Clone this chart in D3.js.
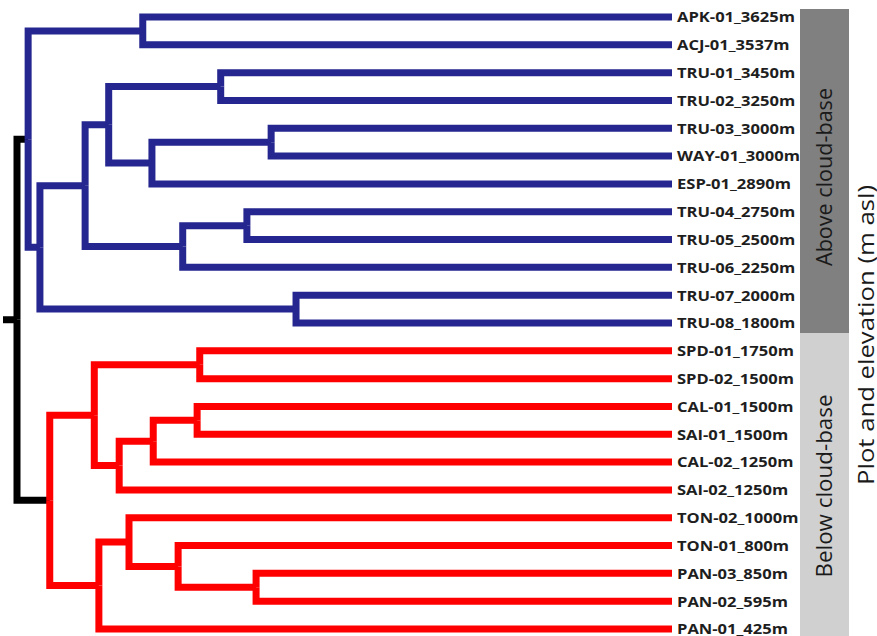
<!DOCTYPE html>
<html>
<head>
<meta charset="utf-8">
<script src="https://cdn.jsdelivr.net/npm/d3@7"></script>
<style>
  body { margin: 0; background: #fff; }
  svg { display: block; }
</style>
</head>
<body>
<svg id="chart" width="877" height="636"></svg>
<script>
// leaf order, top to bottom
const leaves = [
  'APK-01_3625m', 'ACJ-01_3537m', 'TRU-01_3450m', 'TRU-02_3250m',
  'TRU-03_3000m', 'WAY-01_3000m', 'ESP-01_2890m', 'TRU-04_2750m',
  'TRU-05_2500m', 'TRU-06_2250m', 'TRU-07_2000m', 'TRU-08_1800m',
  'SPD-01_1750m', 'SPD-02_1500m', 'CAL-01_1500m', 'SAI-01_1500m',
  'CAL-02_1250m', 'SAI-02_1250m', 'TON-02_1000m', 'TON-01_800m',
  'PAN-03_850m', 'PAN-02_595m', 'PAN-01_425m'
];

// linkage: [left, right, distance] ; cN = result of row N
const merges = [
  ['APK-01_3625m', 'ACJ-01_3537m', 0.808], // c0
  ['TRU-01_3450m', 'TRU-02_3250m', 0.689], // c1
  ['TRU-03_3000m', 'WAY-01_3000m', 0.612], // c2
  ['c2', 'ESP-01_2890m', 0.794],           // c3
  ['c1', 'c3', 0.860],                     // c4
  ['TRU-04_2750m', 'TRU-05_2500m', 0.649], // c5
  ['c5', 'TRU-06_2250m', 0.747],           // c6
  ['c4', 'c6', 0.896],                     // c7
  ['TRU-07_2000m', 'TRU-08_1800m', 0.574], // c8
  ['c7', 'c8', 0.965],                     // c9
  ['c0', 'c9', 0.983],                     // c10 above cloud-base
  ['SPD-01_1750m', 'SPD-02_1500m', 0.721], // c11
  ['CAL-01_1500m', 'SAI-01_1500m', 0.725], // c12
  ['c12', 'CAL-02_1250m', 0.792],          // c13
  ['c13', 'SAI-02_1250m', 0.844],          // c14
  ['c11', 'c14', 0.882],                   // c15
  ['PAN-03_850m', 'PAN-02_595m', 0.635],   // c16
  ['TON-01_800m', 'c16', 0.754],           // c17
  ['TON-02_1000m', 'c17', 0.829],          // c18
  ['c18', 'PAN-01_425m', 0.875],           // c19
  ['c15', 'c19', 0.950],                   // c20 below cloud-base
  ['c10', 'c20', 1.0]                      // c21 root
];
const rootStub = 0.0214;

const groups = ['Above cloud-base', 'Below cloud-base'];
const groupSizes = [12, 11];
const groupColors = ['#25268f', '#ff0000'];
const groupFills = ['#808080', '#d0d0d0'];
const sideTitle = 'Plot and elevation (m asl)';

const W = 877, H = 636;
const svg = d3.select('#chart');

// build the tree
const lookup = new Map(leaves.map(n => [n, { name: n, dist: 0 }]));
merges.forEach(([a, b, d], i) => {
  lookup.set('c' + i, { name: 'c' + i, dist: d, children: [lookup.get(a), lookup.get(b)] });
});
const root = d3.hierarchy(lookup.get('c' + (merges.length - 1)));

const x = d3.scaleLinear().domain([0, 1]).range([672, 17]);
const y = d3.scalePoint().domain(leaves).range([17, 629]);

const leafGroup = new Map();
let k = 0;
groupSizes.forEach((s, gi) => { for (let i = 0; i < s; i++) leafGroup.set(leaves[k++], gi); });

root.eachAfter(n => {
  n.px = x(n.data.dist);
  n.py = n.children ? d3.mean(n.children, c => c.py) : y(n.data.name);
  n.grp = n.children ? leafGroup.get(n.leaves()[0].data.name) : leafGroup.get(n.data.name);
});

const $tree = svg.append('g').attr('class', 'tree');

// elbow links
$tree.selectAll('path.link')
  .data(root.links())
  .join('path')
  .attr('class', 'link')
  .attr('d', l => `M${l.source.px},${l.source.py}V${l.target.py}H${l.target.px}`)
  .attr('fill', 'none')
  .attr('stroke', l => l.source === root ? '#000' : groupColors[l.target.grp])
  .attr('stroke-width', 7)
  .attr('stroke-linejoin', 'miter');

// root stub
$tree.append('path')
  .attr('d', `M${x(1 + rootStub)},${root.py}H${root.px}`)
  .attr('stroke', '#000')
  .attr('stroke-width', 7);

// leaf labels (squeezed a little to look like the narrow original face)
const $labels = $tree.selectAll('text.leaf')
  .data(root.leaves())
  .join('text')
  .attr('class', 'leaf')
  .attr('x', 677)
  .attr('y', d => d.py)
  .attr('dy', '0.36em')
  .attr('font-family', 'Open Sans, sans-serif')
  .attr('font-weight', 'bold')
  .attr('font-size', 15)
  .attr('fill', '#1e1e1e')
  .text(d => d.data.name);

const squeeze = 118 / $labels.node().getComputedTextLength();
$labels.each(function () {
  const w = this.getComputedTextLength();
  d3.select(this).attr('textLength', w * squeeze).attr('lengthAdjust', 'spacingAndGlyphs');
});

// group bands
const $bands = svg.append('g').attr('class', 'bands');
const bandY = [[9, 333], [333, H]];
const bandTextY = [177, 486];
const bandTextLen = [178, 183];
groups.forEach((g, i) => {
  $bands.append('rect')
    .attr('x', 800).attr('y', bandY[i][0])
    .attr('width', 49).attr('height', bandY[i][1] - bandY[i][0])
    .attr('fill', groupFills[i]);
  $bands.append('text')
    .attr('transform', `translate(825,${bandTextY[i]}) rotate(-90)`)
    .attr('text-anchor', 'middle')
    .attr('dy', '0.35em')
    .attr('font-family', 'Open Sans, sans-serif')
    .attr('font-size', 21)
    .attr('fill', '#1a1a1a')
    .attr('textLength', bandTextLen[i])
    .attr('lengthAdjust', 'spacingAndGlyphs')
    .text(g);
});

svg.append('text')
  .attr('transform', `translate(867,335) rotate(-90)`)
  .attr('text-anchor', 'middle')
  .attr('dy', '0.35em')
  .attr('font-family', 'Open Sans, sans-serif')
  .attr('font-size', 21)
  .attr('fill', '#1a1a1a')
  .attr('textLength', 300)
  .attr('lengthAdjust', 'spacingAndGlyphs')
  .text(sideTitle);
</script>
</body>
</html>
